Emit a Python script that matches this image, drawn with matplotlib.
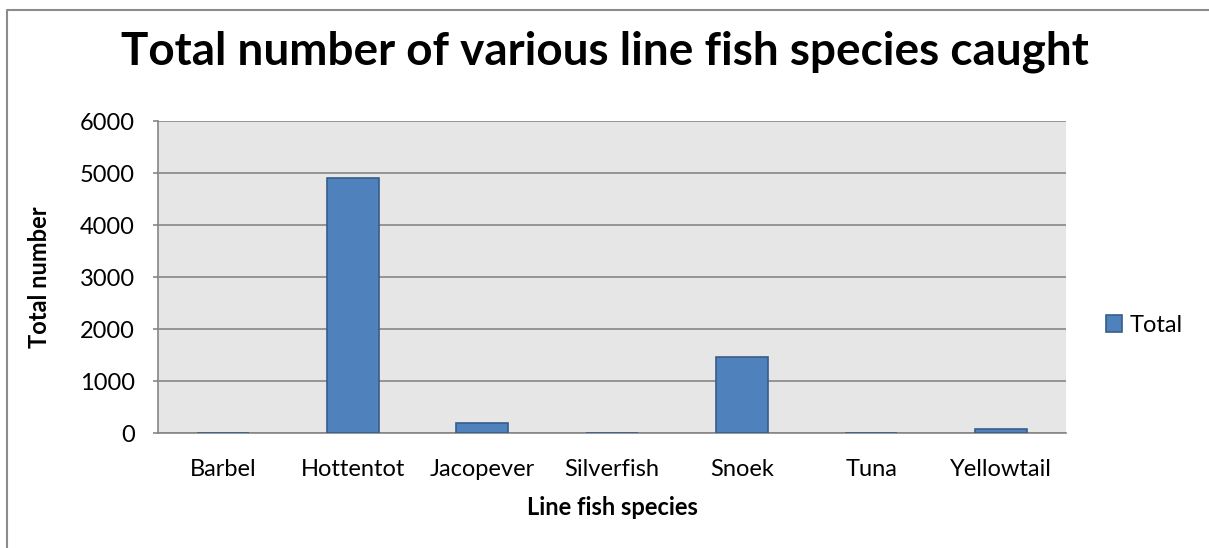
import numpy as np
import matplotlib.pyplot as plt
from matplotlib.lines import Line2D

species = ['Barbel', 'Hottentot', 'Jacopever', 'Silverfish', 'Snoek', 'Tuna', 'Yellowtail']
totals = [8, 4910, 190, 6, 1460, 7, 80]
yticks = [0, 1000, 2000, 3000, 4000, 5000, 6000]

plt.rcParams['font.family'] = ['Lato', 'DejaVu Sans']

fig = plt.figure(figsize=(12.09, 5.48), dpi=100)
W, H = 1209, 548
# plot area in pixel coords: left 158, right 1066, top 121, bottom 433
ax = fig.add_axes([158 / W, 1 - 433 / H, (1066 - 158) / W, (433 - 121) / H])

# chart border (only top and left edges show, the rest is cropped)
fig.add_artist(Line2D([7 / W, 7 / W, 1.0], [0.0, 1 - 10 / H, 1 - 10 / H],
                      transform=fig.transFigure, color='#8c8c8c', lw=1.5))

x = np.arange(len(species))
ax.set_facecolor('#e6e6e6')
ax.bar(x, totals, width=0.4, color='#4f81bd', edgecolor='#385d8a', lw=1.2, zorder=3, label='Total')

ax.set_xlim(-0.5, len(species) - 0.5)
ax.set_ylim(0, 6000)
ax.set_yticks(yticks)
ax.set_xticks(x)
ax.set_xticklabels(species)
ax.grid(axis='y', color='#868686', lw=1.2, zorder=0)
ax.set_axisbelow(True)

for s in ['top', 'right']:
    ax.spines[s].set_visible(False)
for s in ['left', 'bottom']:
    ax.spines[s].set_color('#868686')
    ax.spines[s].set_linewidth(1.2)

ax.tick_params(axis='y', length=3.6, color='#868686', width=1.2, labelsize=17, pad=13)
ax.tick_params(axis='x', length=0, labelsize=17, pad=19)

ax.set_xlabel('Line fish species', fontsize=17, fontweight='bold')
ax.set_ylabel('Total number', fontsize=17, fontweight='bold')
ax.xaxis.set_label_coords(0.5, (433 - 496) / 312)
ax.yaxis.set_label_coords((51 - 158) / 908, 0.5)

fig.text(0.5, 1 - 52 / H, 'Total number of various line fish species caught',
         ha='center', va='center', fontsize=33, fontweight='bold')

ax.legend(loc='center left', bbox_to_anchor=(1.0335, (433 - 325) / 312), frameon=False, fontsize=17,
          handlelength=0.7, handleheight=0.7, handletextpad=0.3, borderaxespad=0)

fig.savefig('out.png', dpi=100)
